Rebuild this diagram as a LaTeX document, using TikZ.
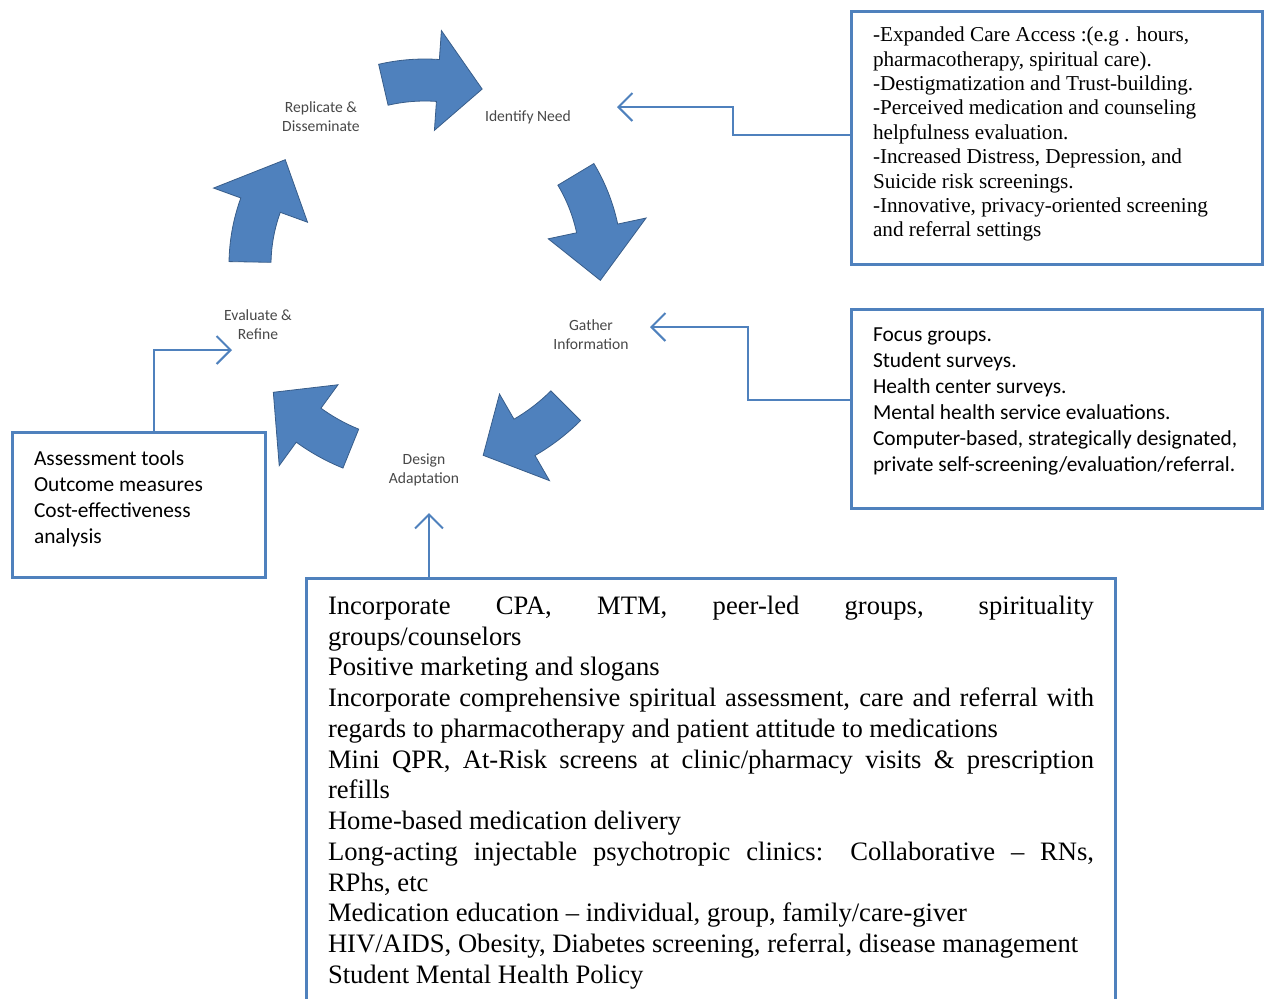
\documentclass[tikz,border=0pt]{standalone}
\usepackage{fontspec}
\setmainfont{Liberation Serif}
\newfontfamily\calibri{Carlito}
\usetikzlibrary{arrows.meta}
\definecolor{boxblue}{RGB}{79,129,189}
\definecolor{arrowedge}{RGB}{56,93,138}
\definecolor{labelgrey}{RGB}{72,72,72}

\begin{document}
\begin{tikzpicture}[x=0.5pt,y=-0.5pt,
  infobox/.style={draw=boxblue, line width=1.5pt, anchor=north west},
  steplabel/.style={font=\calibri\fontsize{7.8}{9.5}\selectfont, text=labelgrey, align=center},
  link/.style={draw=boxblue, line width=1pt, -{Straight Barb[length=7pt,width=14pt]}},
  cyclearrow/.style={fill=boxblue, draw=arrowedge, line width=0.4pt}]
\useasboundingbox (0,0) rectangle (1265,998);
\clip (0,0) rectangle (1265,998);

% cycle labels
\node[steplabel] (identify) at (528,117) {Identify Need};
\node[steplabel] (gather) at (591,335) {Gather\\Information};
\node[steplabel] (design) at (424,470) {Design\\Adaptation};
\node[steplabel] (evaluate) at (258,325) {Evaluate \&\\Refine};
\node[steplabel] (replicate) at (321,117) {Replicate \&\\Disseminate};

% curved block arrows of the cycle
\begin{scope}[shift={(425,265)}]
\draw[cyclearrow] (257:206) arc[start angle=257, end angle=274, radius=206] -- (274:235) -- (288:185) -- (274:135) -- (274:164) arc[start angle=274, end angle=257, radius=164] -- cycle;
\draw[cyclearrow] (329:197) arc[start angle=329, end angle=348, radius=197] -- (348:226) -- (365:176) -- (348:126) -- (348:155) arc[start angle=348, end angle=329, radius=155] -- cycle;
\draw[cyclearrow] (45:220) arc[start angle=45, end angle=60, radius=220] -- (60:249) -- (73:199) -- (60:149) -- (60:178) arc[start angle=60, end angle=45, radius=178] -- cycle;
\draw[cyclearrow] (112:219) arc[start angle=112, end angle=126, radius=219] -- (126:248) -- (140:198) -- (126:148) -- (126:177) arc[start angle=126, end angle=112, radius=177] -- cycle;
\draw[cyclearrow] (181:196) arc[start angle=181, end angle=200, radius=196] -- (200:225) -- (217:175) -- (200:125) -- (200:154) arc[start angle=200, end angle=181, radius=154] -- cycle;
\end{scope}

% text boxes
\node[infobox, inner xsep=10.75pt, inner ysep=7.75pt] (needbox) at (850,10)
  {\parbox[c][111pt][t]{184pt}{\raggedright\fontsize{10.6}{12.2}\selectfont
  -Expanded Care Access :(e.g . hours,\\
  pharmacotherapy, spiritual care).\\
  -Destigmatization and Trust-building.\\
  -Perceived medication and counseling\\
  helpfulness evaluation.\\
  -Increased Distress, Depression, and\\
  Suicide risk screenings.\\
  -Innovative, privacy-oriented screening\\
  and referral settings}};
\node[infobox, inner xsep=10.75pt, inner ysep=9.25pt] (infobox) at (850,308)
  {\parbox[c][81pt][t]{184pt}{\raggedright\calibri\fontsize{10.7}{13}\selectfont
  Focus groups.\\
  Student surveys.\\
  Health center surveys.\\
  Mental health service evaluations.\\
  Computer-based, strategically designated,\\
  private self-screening/evaluation/referral.}};
\node[infobox, inner xsep=10.75pt, inner ysep=9.25pt] (evalbox) at (11,431)
  {\parbox[c][54pt][t]{105pt}{\raggedright\calibri\fontsize{10.7}{13}\selectfont
  Assessment tools\\
  Outcome measures\\
  Cost-effectiveness\\
  analysis}};
\node[infobox, inner xsep=10.75pt, inner ysep=8.75pt] (designbox) at (305,577)
  {\parbox[c][202.5pt][t]{383pt}{\fontsize{13.3}{15.375}\selectfont
  \parindent=0pt \hyphenpenalty=10000 \exhyphenpenalty=10000
  Incorporate CPA, MTM, peer-led groups, spirituality\linebreak groups/counselors\par
  Positive marketing and slogans\par
  Incorporate comprehensive spiritual assessment, care and referral with\linebreak regards to pharmacotherapy and patient attitude to medications\par
  Mini QPR, At-Risk screens at clinic/pharmacy visits \& prescription\linebreak refills\par
  Home-based medication delivery\par
  Long-acting injectable psychotropic clinics: Collaborative -- RNs,\linebreak RPhs, etc\par
  Medication education -- individual, group, family/care-giver\par
  HIV/AIDS, Obesity, Diabetes screening, referral, disease management\par
  Student Mental Health Policy\par}};

% connectors
\coordinate (needtip) at (617,107);
\coordinate (gathertip) at (650,327);
\coordinate (evaltip) at (232,350);
\coordinate (designtip) at (429,513);
\draw[link] (needbox.west |- 0,135) -| (733,107) -- (needtip);
\draw[link] (infobox.west |- 0,400) -| (748,327) -- (gathertip);
\draw[link] (evalbox.north -| 154,0) |- (evaltip);
\draw[link] (designbox.north -| 429,0) -- (designtip);
\end{tikzpicture}
\end{document}
